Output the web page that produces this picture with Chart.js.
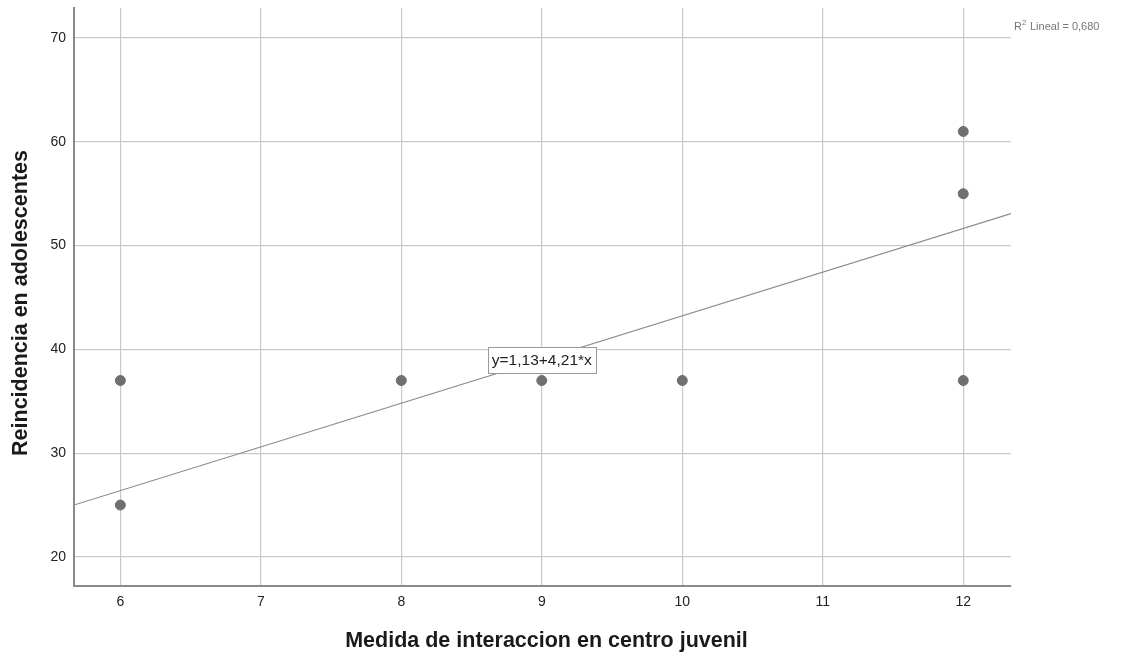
<!DOCTYPE html>
<html>
<head>
<meta charset="utf-8">
<script src="https://cdn.jsdelivr.net/npm/chart.js@4/dist/chart.umd.min.js"></script>
<style>
  html, body { margin: 0; padding: 0; background: #fff; }
</style>
</head>
<body>
<canvas id="grafico" width="1131" height="659"></canvas>
<script>
// datos
const interaccion = [6, 6, 8, 9, 10, 12, 12, 12];
const reincidencia = [37, 25, 37, 37, 37, 61, 55, 37];
const xTicks = [6, 7, 8, 9, 10, 11, 12];
const yTicks = [20, 30, 40, 50, 60, 70];
const intercepto = 1.13;
const pendiente = 4.21;
const r2 = '0,680';

const xMin = 5.67, xMax = 12.34;
const yMin = 17.2, yMax = 72.9;

const puntos = interaccion.map((v, i) => ({ x: v, y: reincidencia[i] }));
const recta = [xMin, xMax].map(v => ({ x: v, y: intercepto + pendiente * v }));

const fuente = '"Liberation Sans", Arial, sans-serif';

// titulos de ejes, ecuacion y R2
const etiquetas = {
  id: 'etiquetas',
  afterDatasetsDraw(chart) {
    const c = chart.ctx, xs = chart.scales.x, ys = chart.scales.y, a = chart.chartArea;
    c.save();
    // caja con la ecuacion
    const txt = 'y=1,13+4,21*x';
    c.font = '15.5px ' + fuente;
    const w = c.measureText(txt).width + 8;
    const cx = xs.getPixelForValue(9);
    const cy = ys.getPixelForValue(intercepto + pendiente * 9);
    c.fillStyle = '#fff';
    c.strokeStyle = '#999';
    c.lineWidth = 1;
    const bx = Math.round(cx - w / 2) + 0.5, by = Math.round(cy - 13) + 0.5;
    c.fillRect(bx, by, Math.round(w), 26);
    c.strokeRect(bx, by, Math.round(w), 26);
    c.fillStyle = '#222';
    c.textAlign = 'center';
    c.textBaseline = 'middle';
    c.fillText(txt, cx, cy + 1);
    // R2
    c.textAlign = 'left';
    c.fillStyle = '#777';
    c.font = '11px ' + fuente;
    c.fillText('R', a.right + 3, a.top + 19);
    const rw = c.measureText('R').width;
    c.font = '8px ' + fuente;
    c.fillText('2', a.right + 3 + rw, a.top + 15);
    c.font = '11px ' + fuente;
    c.fillText(' Lineal = ' + r2, a.right + 3 + rw + 5, a.top + 19);
    // titulos
    c.fillStyle = '#1a1a1a';
    c.font = 'bold 21.5px ' + fuente;
    c.textAlign = 'center';
    c.fillText('Medida de interaccion en centro juvenil', (a.left + a.right) / 2 + 4, 641);
    c.translate(21, (a.top + a.bottom) / 2 + 6);
    c.rotate(-Math.PI / 2);
    c.fillText('Reincidencia en adolescentes', 0, 0);
    c.restore();
  }
};

new Chart(document.getElementById('grafico'), {
  type: 'scatter',
  data: {
    datasets: [
      {
        label: 'Reincidencia',
        data: puntos,
        backgroundColor: '#6f6f6f',
        borderColor: '#6f6f6f',
        pointRadius: 5,
        pointHoverRadius: 5
      },
      {
        type: 'line',
        label: 'Lineal',
        data: recta,
        borderColor: '#8c8c8c',
        borderWidth: 1.2,
        pointRadius: 0,
        fill: false
      }
    ]
  },
  options: {
    responsive: false,
    animation: false,
    maintainAspectRatio: false,
    layout: { padding: { top: 8, right: 120, left: 0, bottom: 0 } },
    plugins: { legend: { display: false }, tooltip: { enabled: false } },
    scales: {
      x: {
        type: 'linear',
        min: xMin,
        max: xMax,
        afterBuildTicks: s => { s.ticks = xTicks.map(v => ({ value: v })); },
        afterFit: s => { s.height = 73; },
        ticks: { color: '#222', autoSkip: false, font: { size: 14, family: fuente }, padding: 8 },
        grid: { color: '#c9c9c9', lineWidth: 1.2, drawTicks: false },
        border: { color: '#8a8a8a', width: 2 }
      },
      y: {
        type: 'linear',
        min: yMin,
        max: yMax,
        afterBuildTicks: s => { s.ticks = yTicks.map(v => ({ value: v })); },
        afterFit: s => { s.width = 74; s.paddingTop = 0; s.paddingBottom = 0; },
        ticks: { color: '#222', autoSkip: false, font: { size: 14, family: fuente }, padding: 8 },
        grid: { color: '#c9c9c9', lineWidth: 1.2, drawTicks: false },
        border: { color: '#8a8a8a', width: 2 }
      }
    }
  },
  plugins: [etiquetas]
});
</script>
</body>
</html>
